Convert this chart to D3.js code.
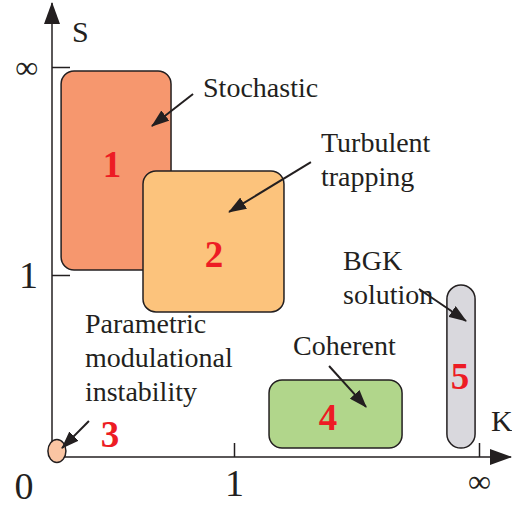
<!DOCTYPE html>
<html>
<head>
<meta charset="utf-8">
<script src="https://cdn.jsdelivr.net/npm/d3@7"></script>
<style>
  body { margin: 0; background: #fff; }
  text { font-family: "Liberation Serif", "Nimbus Roman", "Times", "DejaVu Serif", serif; fill: #231f20; }
</style>
</head>
<body>
<div id="chart"></div>
<script>
// regimes in the (K, S) plane; the value 2 stands for infinity on both axes
let regionIds = ['1', '2', '4', '5'];
let regionK = [[0.05, 0.654], [0.5, 1.204], [1.143, 1.686], [1.869, 1.984]];
let regionS = [[1.024, 1.981], [0.797, 1.5], [0.049, 0.423], [0.049, 0.945]];
let regionColors = ['#f6976e', '#fcc37c', '#b1d68b', '#d9d8dd'];

// regime 3 is a small spot near the origin
let spotK = 0.027;
let spotS = 0.033;

// where the red regime numbers sit
let numberIds = ['1', '2', '3', '4', '5'];
let numberK = [0.330, 0.890, 0.319, 1.384, 1.922];
let numberS = [1.471, 1.038, 0.055, 0.148, 0.374];

// annotation texts with arrows pointing into the regimes
let labelLines = [['Stochastic'], ['Turbulent', 'trapping'], ['BGK', 'solution'], ['Coherent'],
  ['Parametric', 'modulational', 'instability']];
let labelK = [0.830, 1.355, 1.445, 1.241, 0.181];
let labelS = [1.856, 1.591, 1.024, 0.560, 0.681];
let arrowFrom = [[0.775, 1.870], [1.314, 1.543], [1.755, 0.923], [1.388, 0.500], [0.203, 0.198]];
let arrowTo = [[0.549, 1.716], [0.973, 1.303], [1.947, 0.747], [1.539, 0.275], [0.055, 0.049]];

// axis ticks
let kTicks = [1, 2];
let sTicks = [1, 2];
let tickNames = {1: '1', 2: '\u221e'};

let svgWidth = 512;
let svgHeight = 508;
let serif = '"Liberation Serif", "Nimbus Roman", "Times", "DejaVu Serif", serif';

let svg = d3.select('#chart')
  .append('svg')
  .attr('width', svgWidth)
  .attr('height', svgHeight);

// piecewise scales: 0..1 is linear, 1..2 runs out to infinity
let x = d3.scaleLinear().domain([0, 1, 2]).range([52, 234, 479]);
let y = d3.scaleLinear().domain([0, 1, 2]).range([457, 275, 67]);

let ink = '#231f20';

// arrowheads
let defs = svg.append('defs');
defs.append('marker')
  .attr('id', 'axisHead')
  .attr('viewBox', '0 -8 22 16')
  .attr('markerUnits', 'userSpaceOnUse')
  .attr('markerWidth', 22)
  .attr('markerHeight', 16)
  .attr('refX', 21)
  .attr('refY', 0)
  .attr('orient', 'auto')
  .append('path')
  .attr('d', 'M0,-8L22,0L0,8Z')
  .attr('fill', ink);

defs.append('marker')
  .attr('id', 'labelHead')
  .attr('viewBox', '0 -6.5 18 13')
  .attr('markerUnits', 'userSpaceOnUse')
  .attr('markerWidth', 18)
  .attr('markerHeight', 13)
  .attr('refX', 17)
  .attr('refY', 0)
  .attr('orient', 'auto')
  .append('path')
  .attr('d', 'M0,-6.5L18,0L0,6.5Z')
  .attr('fill', ink);

// regime boxes
let regions = regionIds.map((id, i) => ({id: id, k: regionK[i], s: regionS[i], color: regionColors[i]}));

svg.append('g')
  .selectAll('rect')
  .data(regions)
  .enter()
  .append('rect')
  .attr('x', d => x(d.k[0]))
  .attr('y', d => y(d.s[1]))
  .attr('width', d => x(d.k[1]) - x(d.k[0]))
  .attr('height', d => y(d.s[0]) - y(d.s[1]))
  .attr('rx', d => {
    let w = x(d.k[1]) - x(d.k[0]);
    return w < 40 ? w / 2 : 13;
  })
  .attr('fill', d => d.color)
  .attr('stroke', ink)
  .attr('stroke-width', 1.5);

// axes (ticks only, lines drawn separately with arrowheads)
let xAxis = svg.append('g')
  .attr('transform', `translate(0, ${y(0)})`)
  .call(d3.axisBottom(x)
    .tickValues(kTicks)
    .tickSizeInner(-14)
    .tickSizeOuter(0)
    .tickPadding(12)
    .tickFormat(d => tickNames[d]));

let yAxis = svg.append('g')
  .attr('transform', `translate(${x(0)}, 0)`)
  .call(d3.axisLeft(y)
    .tickValues(sTicks)
    .tickSizeInner(-18)
    .tickSizeOuter(0)
    .tickPadding(14)
    .tickFormat(d => tickNames[d]));

[xAxis, yAxis].forEach(a => {
  a.attr('font-family', serif);
  a.select('.domain').remove();
  a.selectAll('line').attr('stroke', ink).attr('stroke-width', 1.5);
  a.selectAll('text')
    .attr('font-size', d => d === 2 ? 32 : 38)
    .attr('fill', ink);
});
xAxis.selectAll('text').attr('dy', '0.72em');
yAxis.selectAll('text').attr('dy', '0.34em');

svg.append('line')
  .attr('x1', x(0)).attr('y1', y(0))
  .attr('x2', 511).attr('y2', y(0))
  .attr('stroke', ink).attr('stroke-width', 1.5)
  .attr('marker-end', 'url(#axisHead)');

svg.append('line')
  .attr('x1', x(0)).attr('y1', y(0))
  .attr('x2', x(0)).attr('y2', 3)
  .attr('stroke', ink).attr('stroke-width', 1.5)
  .attr('marker-end', 'url(#axisHead)');

// origin and axis names
svg.append('text')
  .attr('x', 24).attr('y', 499)
  .attr('text-anchor', 'middle')
  .attr('font-size', 38)
  .text('0');

svg.append('text')
  .attr('x', 72).attr('y', 42)
  .attr('font-size', 30)
  .text('S');

svg.append('text')
  .attr('x', 491).attr('y', 431)
  .attr('font-size', 30)
  .text('K');

// regime 3 spot
svg.append('ellipse')
  .attr('cx', x(spotK))
  .attr('cy', y(spotS))
  .attr('rx', 9)
  .attr('ry', 11.5)
  .attr('fill', '#fac5a3')
  .attr('stroke', ink)
  .attr('stroke-width', 1.5);

// annotation labels
labelLines.forEach(function(lines, i) {
  let t = svg.append('text')
    .attr('x', x(labelK[i]))
    .attr('y', y(labelS[i]))
    .attr('font-size', 28);
  lines.forEach(function(line, j) {
    t.append('tspan')
      .attr('x', x(labelK[i]))
      .attr('dy', j === 0 ? 0 : 34)
      .text(line);
  });
});

// arrows into the regimes
svg.append('g')
  .selectAll('line')
  .data(arrowFrom)
  .enter()
  .append('line')
  .attr('x1', d => x(d[0]))
  .attr('y1', d => y(d[1]))
  .attr('x2', (d, i) => x(arrowTo[i][0]))
  .attr('y2', (d, i) => y(arrowTo[i][1]))
  .attr('stroke', ink)
  .attr('stroke-width', 2)
  .attr('marker-end', 'url(#labelHead)');

// red regime numbers
svg.append('g')
  .selectAll('text')
  .data(numberIds)
  .enter()
  .append('text')
  .attr('x', (d, i) => x(numberK[i]))
  .attr('y', (d, i) => y(numberS[i]))
  .attr('text-anchor', 'middle')
  .attr('font-size', 37)
  .attr('font-weight', 'bold')
  .style('fill', '#ed1c24')
  .text(d => d);
</script>
</body>
</html>
